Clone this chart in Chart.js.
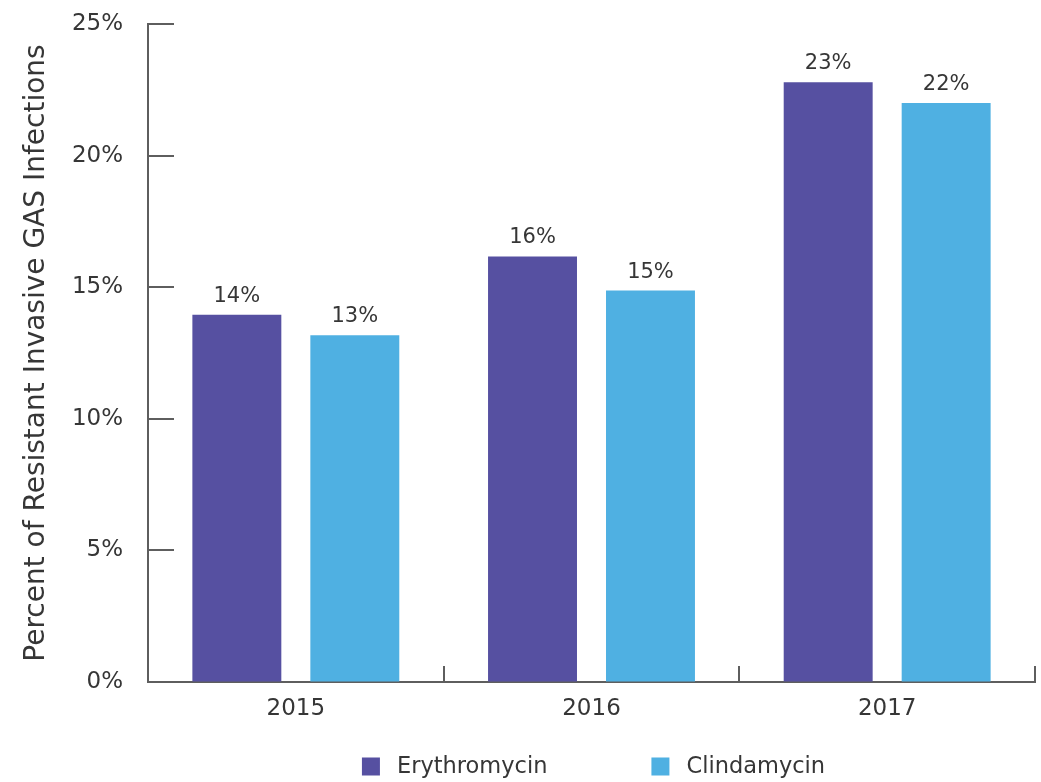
<!DOCTYPE html>
<html>
<head>
<meta charset="utf-8">
<script src="https://cdn.jsdelivr.net/npm/chart.js@4/dist/chart.umd.min.js"></script>
<style>
  html, body { margin: 0; padding: 0; background: #ffffff; }
  #wrap { width: 1041px; height: 782px; position: relative; }
</style>
</head>
<body>
<div id="wrap"><canvas id="c" width="1041" height="782"></canvas></div>
<script>
// ---- data ----
const categories = ['2015', '2016', '2017'];
const erythromycin = [13.95, 16.17, 22.79];
const clindamycin = [13.17, 14.87, 22.0];
const erythromycinLabels = ['14%', '16%', '23%'];
const clindamycinLabels = ['13%', '15%', '22%'];
const seriesNames = ['Erythromycin', 'Clindamycin'];
const yTicks = [0, 5, 10, 15, 20, 25];
const yTitle = 'Percent of Resistant Invasive GAS Infections';

const FONT = '"DejaVu Sans", sans-serif';
const TEXT = '#363636';
const AXIS = '#5e5e5e';
const PURPLE = '#5650a1';
const BLUE = '#4fb0e2';

const decorPlugin = {
  id: 'decor',
  afterDatasetsDraw(chart) {
    const ctx = chart.ctx;
    const area = chart.chartArea;
    const ys = chart.scales.y;
    ctx.save();
    // inward y ticks
    ctx.strokeStyle = AXIS;
    ctx.lineWidth = 2;
    yTicks.forEach(v => {
      const py = Math.round(ys.getPixelForValue(v));
      ctx.beginPath();
      ctx.moveTo(area.left, py);
      ctx.lineTo(area.left + 26, py);
      ctx.stroke();
    });
    // upward x ticks at category boundaries
    const n = categories.length;
    const w = (area.right - area.left) / n;
    for (let i = 1; i <= n; i++) {
      const px = Math.round(area.left + w * i);
      ctx.beginPath();
      ctx.moveTo(px, area.bottom);
      ctx.lineTo(px, area.bottom - 16);
      ctx.stroke();
    }
    // data labels
    ctx.fillStyle = TEXT;
    ctx.font = '21px ' + FONT;
    ctx.textAlign = 'center';
    ctx.textBaseline = 'alphabetic';
    const labelSets = [erythromycinLabels, clindamycinLabels];
    chart.data.datasets.forEach((ds, di) => {
      const meta = chart.getDatasetMeta(di);
      meta.data.forEach((bar, i) => {
        ctx.fillText(labelSets[di][i], bar.x, bar.y - 13);
      });
    });
    // legend
    ctx.font = '22.5px ' + FONT;
    ctx.textAlign = 'left';
    ctx.textBaseline = 'middle';
    const box = 18, gapText = 17, gapItem = 104;
    const widths = chart.data.datasets.map(ds => box + gapText + ctx.measureText(ds.label).width);
    const total = widths.reduce((a, b) => a + b, 0) + gapItem * (widths.length - 1);
    let x = (area.left + area.right) / 2 - total / 2 + 2;
    const cy = 766.5;
    chart.data.datasets.forEach((ds, di) => {
      ctx.fillStyle = ds.backgroundColor;
      ctx.fillRect(x, cy - box / 2, box, box);
      ctx.fillStyle = TEXT;
      ctx.fillText(ds.label, x + box + gapText, cy + 1);
      x += widths[di] + gapItem;
    });
    ctx.restore();
  }
};

new Chart(document.getElementById('c'), {
  type: 'bar',
  data: {
    labels: categories,
    datasets: [
      { label: seriesNames[0], data: erythromycin, backgroundColor: PURPLE, borderWidth: 0 },
      { label: seriesNames[1], data: clindamycin, backgroundColor: BLUE, borderWidth: 0 }
    ]
  },
  options: {
    responsive: false,
    animation: false,
    devicePixelRatio: 1,
    categoryPercentage: 0.798,
    barPercentage: 0.754,
    layout: { padding: { left: 0, right: 6, top: 24, bottom: 0 } },
    plugins: { legend: { display: false }, tooltip: { enabled: false } },
    scales: {
      x: {
        grid: { display: true, drawOnChartArea: false, drawTicks: false },
        border: { display: true, color: AXIS, width: 2 },
        ticks: { color: TEXT, font: { family: FONT, size: 23 }, padding: 13 },
        afterFit(s) { s.height = 100; s.paddingLeft = 0; s.paddingRight = 0; }
      },
      y: {
        min: 0, max: 25,
        afterBuildTicks(s) { s.ticks = yTicks.map(v => ({ value: v })); },
        grid: { display: true, drawOnChartArea: false, drawTicks: false },
        border: { display: true, color: AXIS, width: 2 },
        ticks: {
          color: TEXT, font: { family: FONT, size: 23 }, padding: 25,
          callback: v => v + '%'
        },
        title: {
          display: true, text: yTitle, color: TEXT,
          font: { family: FONT, size: 28 }, padding: { top: 20, bottom: 0 }
        },
        afterFit(s) { s.width = 148; s.paddingTop = 0; s.paddingBottom = 0; }
      }
    }
  },
  plugins: [decorPlugin]
});
</script>
</body>
</html>
